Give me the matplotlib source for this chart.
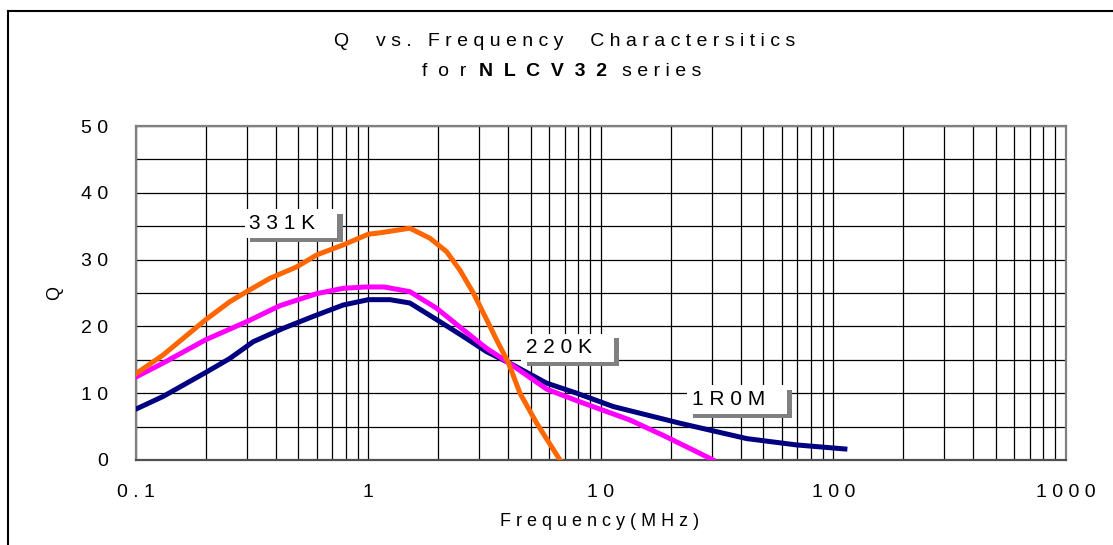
import matplotlib.pyplot as plt
from matplotlib.ticker import FixedLocator, MultipleLocator, NullFormatter
from matplotlib.lines import Line2D
import matplotlib.patheffects as pe

# series (frequency in MHz, Q)
series_names = ["331K", "220K", "1R0M"]

f_331k = [0.1, 0.131, 0.2, 0.254, 0.3, 0.378, 0.492, 0.6, 0.78, 1.0, 1.12, 1.51,
          1.84, 2.17, 2.48, 2.83, 3.23, 3.62, 4.0, 4.49, 5.3, 6.67]
q_331k = [12.9, 15.7, 21.0, 23.7, 25.2, 27.2, 28.9, 30.7, 32.2, 33.8, 34.0, 34.7,
          33.2, 31.2, 28.4, 25.0, 21.0, 17.5, 14.6, 10.0, 5.5, 0.0]

f_220k = [0.1, 0.131, 0.2, 0.3, 0.417, 0.6, 0.78, 0.98, 1.17, 1.51, 1.97, 2.56,
          3.23, 4.0, 5.85, 8.13, 13.3, 18.5, 24.9, 30.4]
q_220k = [12.4, 14.5, 18.0, 20.7, 23.1, 24.9, 25.7, 25.9, 25.9, 25.2, 22.7, 19.5,
          16.7, 14.6, 10.6, 8.7, 6.0, 3.7, 1.5, 0.0]

f_1r0m = [0.1, 0.131, 0.2, 0.254, 0.32, 0.43, 0.58, 0.78, 1.0, 1.24, 1.51, 1.97,
          2.56, 3.23, 4.0, 5.85, 7.87, 11.3, 21.9, 42.4, 69.5, 112]
q_1r0m = [7.6, 9.5, 13.1, 15.2, 17.7, 19.7, 21.5, 23.2, 24.0, 24.0, 23.5, 21.0,
          18.5, 16.2, 14.6, 11.5, 10.0, 8.0, 5.5, 3.2, 2.25, 1.65]

x_ticks = [0.1, 1, 10, 100, 1000]
x_tick_labels = ["0.1", "1", "10", "100", "1000"]
y_ticks = [0, 10, 20, 30, 40, 50]

# label anchor positions (data coords)
label_pos = [(0.465, 35.4), (7.18, 16.8), (38.5, 9.06)]

FONT = ["Liberation Sans Narrow", "Liberation Sans", "DejaVu Sans"]
plt.rcParams["font.family"] = FONT


def spaced(s, sep=" "):
    return sep.join(s)


fig = plt.figure(figsize=(11.13, 5.45), dpi=100)
ax = fig.add_axes([0.1219, 0.156, 0.8359, 0.6128])

ax.plot(f_1r0m, q_1r0m, color="#000080", lw=3.6, zorder=3)
ax.plot(f_220k, q_220k, color="#FF00FF", lw=3.6, zorder=4)
ax.plot(f_331k, q_331k, color="#FF6600", lw=3.6, zorder=5)

ax.set_xscale("log")
ax.set_xlim(0.1, 1000)
ax.set_ylim(0, 50)
ax.xaxis.set_major_locator(FixedLocator(x_ticks))
ax.set_xticklabels([spaced(t) for t in x_tick_labels])
ax.xaxis.set_minor_formatter(NullFormatter())
ax.set_yticks(y_ticks)
ax.set_yticklabels([spaced(str(t)) for t in y_ticks])
ax.yaxis.set_minor_locator(MultipleLocator(5))
ax.tick_params(which="both", length=0, labelsize=14)
ax.tick_params(axis="x", pad=17)
ax.tick_params(axis="y", pad=20)
ax.grid(which="both", color="black", lw=0.9)
ax.set_axisbelow(True)
for sp in ax.spines.values():
    sp.set_color("#808080")
    sp.set_linewidth(1.6)
ax.spines["bottom"].set_color("#505050")

fig.text(600 / 1113, 1 - 521 / 545, spaced("Frequency(MHz)"), ha="center", va="center",
         fontsize=13)
fig.text(55 / 1113, 1 - 293 / 545, "Q", ha="center", va="center", fontsize=13,
         rotation=90)

# series labels with grey drop shadow
for name, (lx, ly) in zip(series_names, label_pos):
    t = ax.text(lx, ly, spaced(name) + "   ", ha="center", va="center", fontsize=15,
                color="black", zorder=7,
                bbox=dict(boxstyle="square,pad=0.22", fc="white", ec="none"))
    t.get_bbox_patch().set_path_effects([
        pe.withSimplePatchShadow(offset=(4, -3), shadow_rgbFace="#808080", alpha=1.0),
        pe.Normal()])

# title
fig.text(565 / 1113, 1 - 42 / 545, spaced("Q  vs. Frequency  Charactersitics"),
         ha="center", va="center", fontsize=14)
y2 = 1 - 71 / 545
fig.text(466 / 1113, y2, spaced("for", "  "), ha="right", va="center", fontsize=14)
fig.text(543 / 1113, y2, spaced("NLCV32", "  "), ha="center", va="center", fontsize=14,
         fontweight="bold")
fig.text(622 / 1113, y2, spaced("series"), ha="left", va="center", fontsize=14)

# outer frame (left and top edges visible)
fig.add_artist(Line2D([8 / 1113, 8 / 1113], [0, 1 - 11 / 545], color="black", lw=1.5,
                      transform=fig.transFigure))
fig.add_artist(Line2D([8 / 1113, 1], [1 - 11 / 545, 1 - 11 / 545], color="black", lw=1.5,
                      transform=fig.transFigure))

fig.savefig("out.png", dpi=100)
